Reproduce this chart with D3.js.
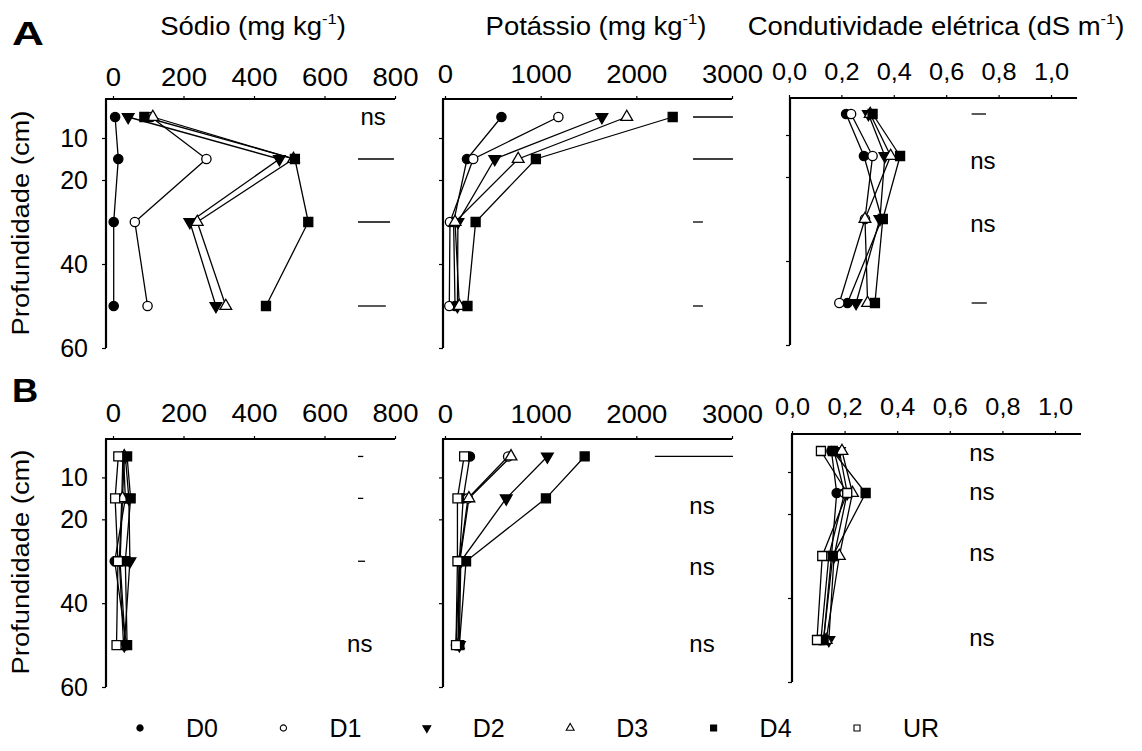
<!doctype html>
<html>
<head>
<meta charset="utf-8">
<script src="https://cdn.jsdelivr.net/npm/d3@7"></script>
<style>
html,body{margin:0;background:#fff;overflow:hidden;}
text{font-family:Arial,"Liberation Sans",sans-serif;fill:#000;}
</style>
</head>
<body>
<script>
// profundidades amostradas (cm)
var depths = [5, 15, 30, 50];
var series = ["D0", "D1", "D2", "D3", "D4", "UR"];

var sodioTicks = [0, 200, 400, 600, 800];
var potassioTicks = [0, 1000, 2000, 3000];
var ceTicks = [0, 0.2, 0.4, 0.6, 0.8, 1.0];
var depthTicks = [10, 20, 40, 60];

// A: valores por serie (D0..D4), na ordem das profundidades
var sodioA = [[6, 15, 2, 2], [108, 265, 62, 98], [43, 472, 218, 292], [113, 512, 239, 320], [89, 516, 554, 434]];
var potassioA = [[590, 230, 90, 105], [1185, 295, 52, 45], [1640, 520, 135, 130], [1900, 765, 105, 150], [2380, 950, 320, 235]];
var ceA = [[0.218, 0.286, 0.354, 0.223], [0.237, 0.319, 0.29, 0.192], [0.303, 0.366, 0.347, 0.256], [0.31, 0.388, 0.29, 0.30], [0.319, 0.424, 0.358, 0.328]];

// B: D0..D4 + UR
var sodioB = [[30, 35, 5, 38], [28, 25, 18, 30], [35, 45, 48, 32], [32, 27, 20, 35], [40, 50, 35, 40], [15, 6, 14, 10]];
var potassioB = [[260, 190, 150, 135], [660, 240, 150, 115], [1070, 640, 165, 150], [690, 250, 155, 140], [1460, 1055, 220, 150], [200, 130, 130, 115]];
var ceB = [[0.15, 0.17, 0.15, 0.12], [0.16, 0.20, 0.14, 0.11], [0.18, 0.21, 0.16, 0.14], [0.19, 0.23, 0.18, 0.13], [0.155, 0.28, 0.155, 0.12], [0.11, 0.21, 0.115, 0.095]];

// barras de DMS: [profundidade, inicio, fim]
var dmsSodioA = [[15, 695, 797], [30, 695, 786], [50, 695, 774]];
var dmsPotassioA = [[5, 2592, 3010], [15, 2592, 3010], [30, 2592, 2696], [50, 2592, 2696]];
var dmsCeA = [[5, 0.697, 0.752], [50, 0.697, 0.755]];
var dmsSodioB = [[5, 695, 710], [15, 695, 710], [30, 695, 715]];
var dmsPotassioB = [[5, 2194, 3010]];
var dmsCeB = [];

// "ns": [profundidade, valor x]
var nsSodioA = [[5.2, 738]];
var nsPotassioA = [];
var nsCeA = [[16.4, 0.74], [31.4, 0.74]];
var nsSodioB = [[50, 700]];
var nsPotassioB = [[17, 2686], [31.5, 2686], [50, 2686]];
var nsCeB = [[5.7, 0.722], [15.1, 0.722], [29.5, 0.722], [49.8, 0.722]];

var svg = d3.select("body").append("svg").attr("width", 1142).attr("height", 751);

function txt(g, x, y, s, size, anchor, sx) {
  return g.append("text")
    .attr("transform", "translate(" + x + "," + y + ") scale(" + sx + ",1)")
    .attr("text-anchor", anchor)
    .style("font-size", size + "px")
    .text(s);
}

var fmtCe = function(d){ return d3.format(".1f")(d).replace(".", ","); };

var panels = [
  {data: sodioA, ticks: sodioTicks, max: 800, xr: [113, 395], yx: 106, xend: 395, top: 99, yr: [96, 348], pad: 10, dms: dmsSodioA, ns: nsSodioA, ylab: true, fmt: d3.format("d"), fs: 25},
  {data: potassioA, ticks: potassioTicks, max: 3000, xr: [445, 732], yx: 443, xend: 732, top: 99, yr: [96, 348], pad: 13, dms: dmsPotassioA, ns: nsPotassioA, ylab: false, fmt: d3.format("d"), fs: 25},
  {data: ceA, ticks: ceTicks, max: 1, xr: [789, 1051], yx: 790, xend: 1077, top: 98, yr: [93, 345], pad: 15, dms: dmsCeA, ns: nsCeA, ylab: false, fmt: fmtCe, fs: 23},
  {data: sodioB, ticks: sodioTicks, max: 800, xr: [113, 395], yx: 106, xend: 395, top: 439, yr: [435.5, 687], pad: 14, dms: dmsSodioB, ns: nsSodioB, ylab: true, fmt: d3.format("d"), fs: 25},
  {data: potassioB, ticks: potassioTicks, max: 3000, xr: [445, 732], yx: 443, xend: 732, top: 439, yr: [435.5, 687], pad: 13, dms: dmsPotassioB, ns: nsPotassioB, ylab: false, fmt: d3.format("d"), fs: 25},
  {data: ceB, ticks: ceTicks, max: 1, xr: [792, 1055], yx: 792, xend: 1081, top: 434, yr: [430, 682], pad: 16, dms: dmsCeB, ns: nsCeB, ylab: false, fmt: fmtCe, fs: 23}
];

var sym = {
  D0: {type: d3.symbolCircle, size: 68, fill: "#000", rot: 0},
  D1: {type: d3.symbolCircle, size: 68, fill: "#fff", rot: 0},
  D2: {type: d3.symbolTriangle, size: 60, fill: "#000", rot: 180},
  D3: {type: d3.symbolTriangle, size: 60, fill: "#fff", rot: 0},
  D4: {type: d3.symbolSquare, size: 81, fill: "#000", rot: 0},
  UR: {type: d3.symbolSquare, size: 81, fill: "#fff", rot: 0}
};

panels.forEach(function(p){
  var g = svg.append("g");
  var xs = d3.scaleLinear().domain([0, p.max]).range(p.xr);
  var ys = d3.scaleLinear().domain([0, 60]).range(p.yr);

  // eixo x no topo
  var ax = g.append("g").attr("transform", "translate(0," + p.top + ")")
    .call(d3.axisTop(xs).tickValues(p.ticks).tickSize(3).tickPadding(p.pad).tickFormat(p.fmt));
  ax.select(".domain").remove();
  ax.selectAll(".tick line").attr("stroke", "#000").attr("stroke-width", 1.2);
  ax.selectAll(".tick text").attr("font-family", null).style("font-size", p.fs + "px").attr("transform", "scale(1.1,1)");
  g.append("line").attr("x1", p.yx - 1).attr("x2", p.xend).attr("y1", p.top).attr("y2", p.top)
    .attr("stroke", "#000").attr("stroke-width", 2.2);

  // eixo y
  var ay = g.append("g").attr("transform", "translate(" + p.yx + ",0)")
    .call(d3.axisLeft(ys).tickValues(depthTicks).tickSize(4).tickPadding(14)
      .tickFormat(p.ylab ? d3.format("d") : function(){ return ""; }));
  ay.select(".domain").remove();
  ay.selectAll(".tick line").attr("stroke", "#000").attr("stroke-width", 1.2);
  ay.selectAll(".tick text").attr("font-family", null).style("font-size", "25px");
  g.append("line").attr("x1", p.yx).attr("x2", p.yx).attr("y1", p.top).attr("y2", ys(60))
    .attr("stroke", "#000").attr("stroke-width", 2.2);

  // linhas e marcadores
  var line = d3.line().x(function(d){ return xs(d[0]); }).y(function(d){ return ys(d[1]); });
  p.data.forEach(function(vals, i){
    var pts = vals.map(function(v, j){ return [v, depths[j]]; });
    g.append("path").datum(pts).attr("d", line).attr("fill", "none")
      .attr("stroke", "#000").attr("stroke-width", 1.3);
  });
  p.data.forEach(function(vals, i){
    var s = sym[series[i]];
    var pts = vals.map(function(v, j){ return [v, depths[j]]; });
    g.selectAll(null).data(pts).enter().append("path")
      .attr("d", d3.symbol().type(s.type).size(s.size))
      .attr("transform", function(d){ return "translate(" + xs(d[0]) + "," + ys(d[1]) + ") rotate(" + s.rot + ")"; })
      .attr("fill", s.fill).attr("stroke", "#000").attr("stroke-width", 1.3);
  });

  // DMS
  g.selectAll(null).data(p.dms).enter().append("line")
    .attr("x1", function(d){ return xs(d[1]); }).attr("x2", function(d){ return xs(d[2]); })
    .attr("y1", function(d){ return ys(d[0]); }).attr("y2", function(d){ return ys(d[0]); })
    .attr("stroke", "#000").attr("stroke-width", 1.3);
  p.ns.forEach(function(d){
    txt(g, xs(d[1]), ys(d[0]) + 7, "ns", 24, "middle", 1);
  });
});

// titulos
function titulo(x, nome, un) {
  var t = svg.append("text").attr("transform", "translate(" + x + ",35) scale(1.1,1)")
    .attr("text-anchor", "middle").style("font-size", "25px");
  t.append("tspan").text(nome + " (" + un);
  t.append("tspan").attr("dy", -11).style("font-size", "15px").text("-1");
  t.append("tspan").attr("dy", 11).text(")");
}
titulo(253, "Sódio", "mg kg");
titulo(596, "Potássio", "mg kg");
titulo(936, "Condutividade elétrica", "dS m");

txt(svg, 12, 45, "A", 34, "start", 1.3).style("font-weight", "bold");
txt(svg, 12, 402, "B", 33, "start", 1.1).style("font-weight", "bold");

[223, 562].forEach(function(cy){
  svg.append("text").attr("transform", "translate(29," + cy + ") rotate(-90) scale(1.14,1)")
    .attr("text-anchor", "middle").style("font-size", "24px").text("Profundidade (cm)");
});

// legenda
var legX = d3.scalePoint().domain(series).range([140, 857]);
var leg = svg.append("g");
series.forEach(function(k){
  var s = sym[k];
  leg.append("path").attr("d", d3.symbol().type(s.type).size(s.size * 0.45))
    .attr("transform", "translate(" + legX(k) + ",728) rotate(" + s.rot + ")")
    .attr("fill", s.fill).attr("stroke", "#000").attr("stroke-width", 1.1);
  txt(leg, legX(k) + 46, 737, k, 25, "start", 1);
});
</script>
</body>
</html>
